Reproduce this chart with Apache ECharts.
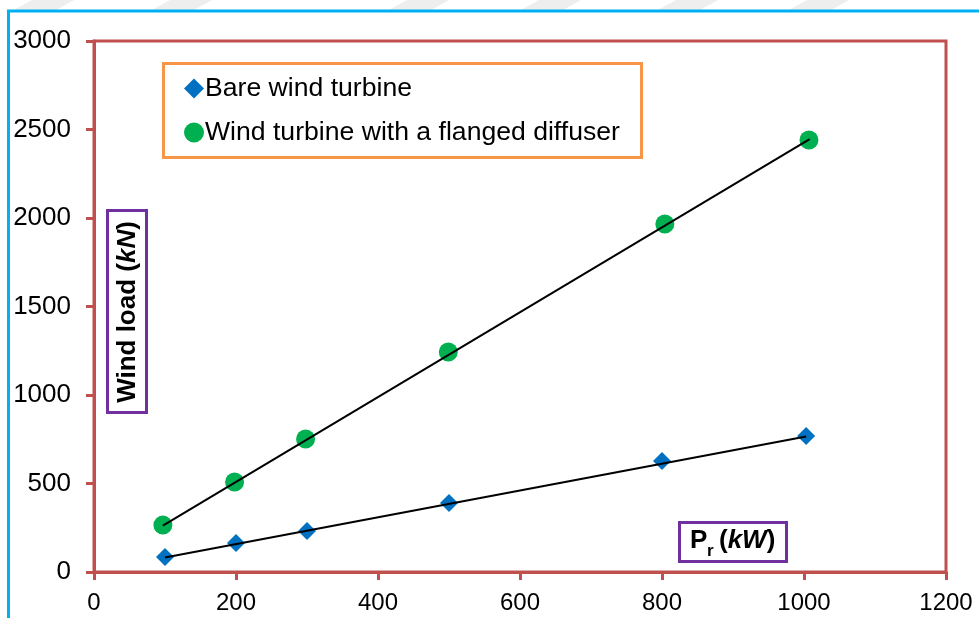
<!DOCTYPE html>
<html>
<head>
<meta charset="utf-8">
<title>Wind load vs rated power</title>
<script src="https://cdn.jsdelivr.net/npm/echarts@6/dist/echarts.min.js"></script>
<style>
  html, body { margin: 0; padding: 0; background: #fff; }
  #chart { width: 979px; height: 618px; }
</style>
</head>
<body>
<div id="chart"></div>
<script>
// Rated power Pr (kW) and wind load (kN)
const bareX = [100, 200, 300, 500, 800, 1003];
const bareY = [85, 164, 232, 390, 627, 768];
const flangedX = [97, 198, 298, 499, 804, 1007];
const flangedY = [265, 508, 751, 1243, 1966, 2441];

// Linear trend lines (end points)
const bareTrend = [[100, 82], [1003, 766]];
const flangedTrend = [[97, 262], [1008, 2446]];

const seriesNames = ['Bare wind turbine', 'Wind turbine with a flanged diffuser'];
const xTicks = [0, 1200, 200];   // min, max, step
const yTicks = [0, 3000, 500];

const FONT = '"Liberation Sans", Arial, sans-serif';
const AXIS_RED = '#C0504D';
const BLUE = '#0070C0';
const GREEN = '#00B050';

const pairs = (xs, ys) => xs.map((x, i) => [x, ys[i]]);
const plain = v => String(v);

// faint diagonal band decoration along the top edge
const bandStarts = [12, 150, 387, 519, 656, 787];
const bands = bandStarts.map(x0 => ({
  type: 'polygon',
  silent: true,
  shape: { points: [[x0 + 20, 0], [x0 + 62, 0], [x0 + 44, 10], [x0 + 2, 10]] },
  style: { fill: '#EEEEEE' }
}));

const chart = echarts.init(document.getElementById('chart'), null, { renderer: 'canvas' });

chart.setOption({
  animation: false,
  backgroundColor: '#fff',
  textStyle: { fontFamily: FONT },
  grid: {
    left: 94, right: 33, top: 41, bottom: 46,
    show: true, borderColor: AXIS_RED, borderWidth: 3, backgroundColor: 'transparent'
  },
  xAxis: {
    type: 'value',
    min: xTicks[0], max: xTicks[1], interval: xTicks[2],
    axisLine: { show: true, lineStyle: { color: AXIS_RED, width: 3 } },
    axisTick: { show: true, inside: false, length: 8, lineStyle: { color: AXIS_RED, width: 3 } },
    axisLabel: { color: '#000', fontSize: 24, fontFamily: FONT, margin: 19, formatter: plain },
    splitLine: { show: false }
  },
  yAxis: {
    type: 'value',
    min: yTicks[0], max: yTicks[1], interval: yTicks[2],
    axisLine: { show: true, lineStyle: { color: AXIS_RED, width: 3 } },
    axisTick: { show: true, inside: false, length: 8, lineStyle: { color: AXIS_RED, width: 3 } },
    axisLabel: { color: '#000', fontSize: 26, fontFamily: FONT, margin: 23, formatter: plain },
    splitLine: { show: false }
  },
  legend: {
    data: [
      { name: seriesNames[0], icon: 'diamond' },
      { name: seriesNames[1], icon: 'circle' }
    ],
    orient: 'vertical',
    left: 179, top: 70,
    itemWidth: 20, itemHeight: 20, itemGap: 17,
    textStyle: { fontSize: 26.6, color: '#000', fontFamily: FONT, padding: [0, 0, 0, -4] },
    selectedMode: false
  },
  series: [
    {
      name: 'bare trend', type: 'line', data: bareTrend, symbol: 'none',
      lineStyle: { color: '#000', width: 2 }, z: 3, silent: true
    },
    {
      name: 'flanged trend', type: 'line', data: flangedTrend, symbol: 'none',
      lineStyle: { color: '#000', width: 2 }, z: 3, silent: true
    },
    {
      name: seriesNames[0], type: 'scatter', data: pairs(bareX, bareY),
      symbol: 'diamond', symbolSize: 18, itemStyle: { color: BLUE, opacity: 1 }, z: 2
    },
    {
      name: seriesNames[1], type: 'scatter', data: pairs(flangedX, flangedY),
      symbol: 'circle', symbolSize: 19, itemStyle: { color: GREEN, opacity: 1 }, z: 2
    }
  ],
  graphic: [
    ...bands,
    // outer blue frame
    { type: 'line', silent: true, shape: { x1: 7, y1: 11, x2: 979, y2: 11 }, style: { stroke: '#00B0F0', lineWidth: 3 } },
    { type: 'line', silent: true, shape: { x1: 8.5, y1: 10, x2: 8.5, y2: 618 }, style: { stroke: '#00B0F0', lineWidth: 3 } },
    // legend frame
    { type: 'rect', silent: true, z: -1, shape: { x: 163.5, y: 63.5, width: 478, height: 94 }, style: { fill: '#fff', stroke: '#F79646', lineWidth: 3 } },
    // y-axis title box
    { type: 'rect', silent: true, shape: { x: 107.5, y: 210.5, width: 39, height: 202 }, style: { fill: '#fff', stroke: '#7030A0', lineWidth: 3 } },
    {
      type: 'text', silent: true, x: 128, y: 312, rotation: Math.PI / 2,
      style: {
        text: '{b|Wind load (}{bi|kN}{b|)}',
        align: 'center', verticalAlign: 'middle',
        rich: {
          b: { fontFamily: FONT, fontWeight: 'bold', fontSize: 26, fill: '#000' },
          bi: { fontFamily: FONT, fontWeight: 'bold', fontStyle: 'italic', fontSize: 26, fill: '#000' }
        }
      }
    },
    // x-axis title box
    { type: 'rect', silent: true, shape: { x: 679.5, y: 522.5, width: 107, height: 39 }, style: { fill: '#fff', stroke: '#7030A0', lineWidth: 3 } },
    {
      type: 'text', silent: true, x: 690, y: 541,
      style: { text: 'P', fontFamily: FONT, fontWeight: 'bold', fontSize: 26, fill: '#000', verticalAlign: 'middle' }
    },
    {
      type: 'text', silent: true, x: 707, y: 551,
      style: { text: 'r', fontFamily: FONT, fontWeight: 'bold', fontSize: 17, fill: '#000', verticalAlign: 'middle' }
    },
    {
      type: 'text', silent: true, x: 719, y: 541,
      style: {
        text: '{b|(}{bi|kW}{b|)}', verticalAlign: 'middle',
        rich: {
          b: { fontFamily: FONT, fontWeight: 'bold', fontSize: 26, fill: '#000' },
          bi: { fontFamily: FONT, fontWeight: 'bold', fontStyle: 'italic', fontSize: 26, fill: '#000' }
        }
      }
    }
  ]
});
</script>
</body>
</html>
